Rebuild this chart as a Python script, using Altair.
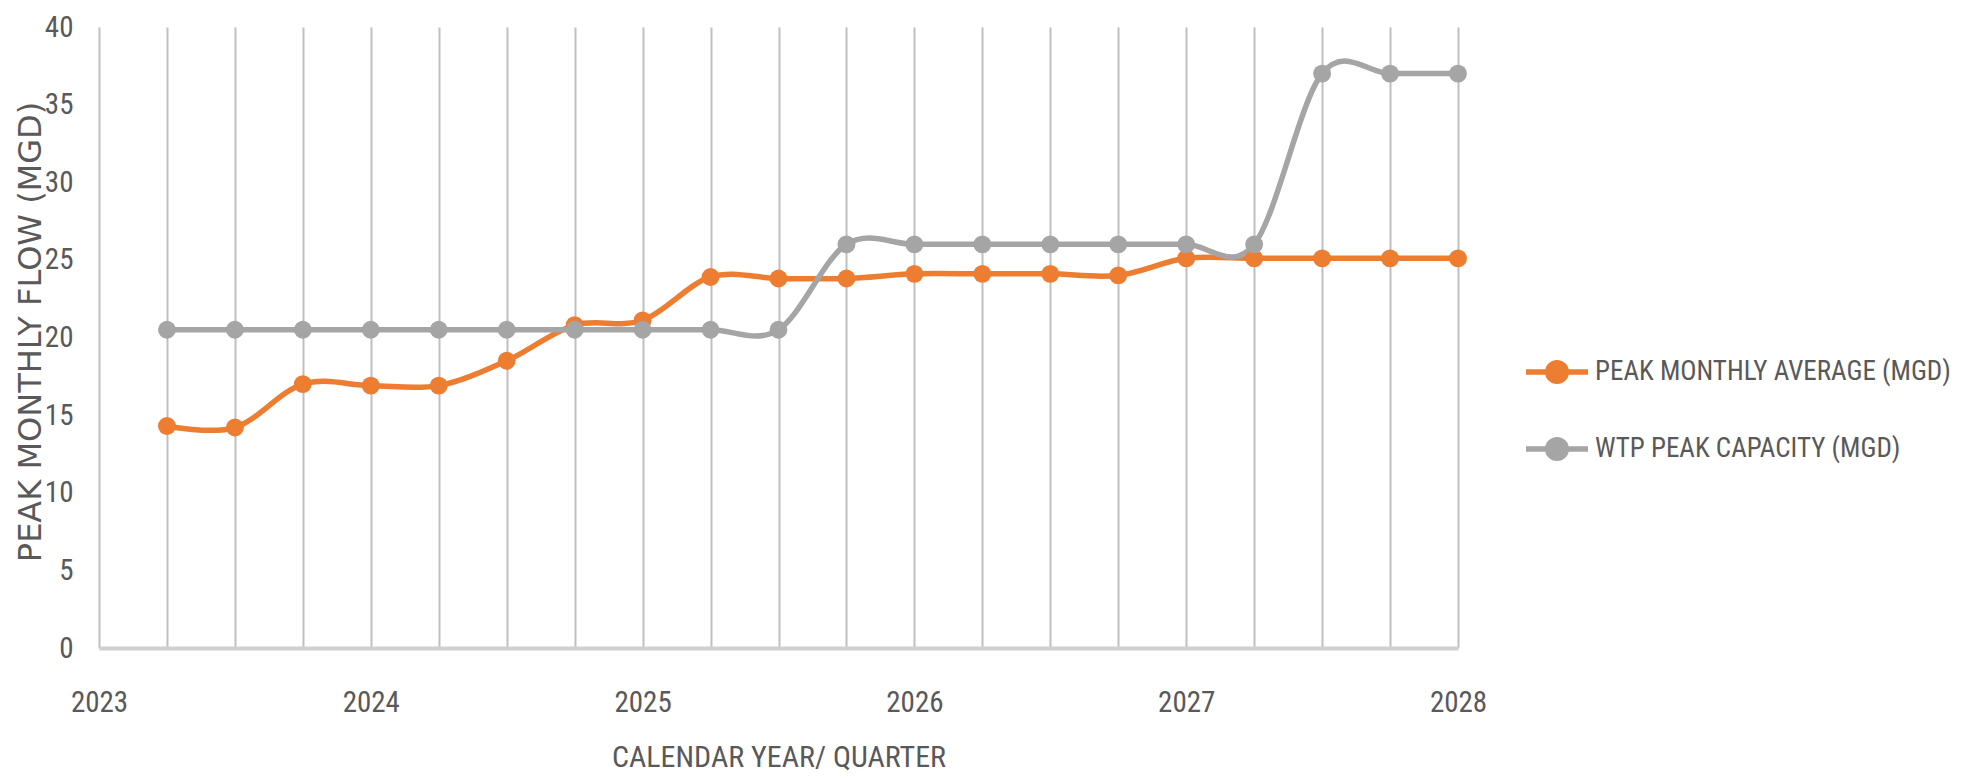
import altair as alt
import pandas as pd

quarters = [2023.25, 2023.5, 2023.75, 2024.0, 2024.25, 2024.5, 2024.75, 2025.0,
            2025.25, 2025.5, 2025.75, 2026.0, 2026.25, 2026.5, 2026.75, 2027.0,
            2027.25, 2027.5, 2027.75, 2028.0]
peak_monthly_avg = [14.3, 14.2, 17.0, 16.9, 16.9, 18.5, 20.8, 21.1,
                    23.9, 23.8, 23.8, 24.1, 24.1, 24.1, 24.0, 25.1,
                    25.1, 25.1, 25.1, 25.1]
wtp_peak_capacity = [20.5, 20.5, 20.5, 20.5, 20.5, 20.5, 20.5, 20.5,
                     20.5, 20.5, 26.0, 26.0, 26.0, 26.0, 26.0, 26.0,
                     26.0, 37.0, 37.0, 37.0]
series_names = ["PEAK MONTHLY AVERAGE (MGD)", "WTP PEAK CAPACITY (MGD)"]
series_colors = ["#ED7D31", "#A5A5A5"]
year_ticks = [2023, 2024, 2025, 2026, 2027, 2028]
y_ticks = [0, 5, 10, 15, 20, 25, 30, 35, 40]

rows = []
for q, a, c in zip(quarters, peak_monthly_avg, wtp_peak_capacity):
    rows.append({"quarter": q, "value": a, "series": series_names[0]})
    rows.append({"quarter": q, "value": c, "series": series_names[1]})
df = pd.DataFrame(rows)

TXT = "#595959"
NARROW = "Roboto Condensed, Liberation Sans Narrow, Arial Narrow, sans-serif"

PLOT_H = 621

x_enc = alt.X(
    "quarter:Q",
    scale=alt.Scale(domain=[2023, 2028], nice=False, zero=False),
    axis=alt.Axis(
        values=[2023] + quarters,
        labelExpr="datum.value % 1 == 0 ? format(datum.value, 'd') : ''",
        title="CALENDAR YEAR/ QUARTER",
        titleFont=NARROW, titleFontSize=30, titleFontWeight="normal", titleColor=TXT,
        titlePadding=25,
        labelFont=NARROW, labelFontSize=29, labelColor=TXT, labelPadding=40,
        labelOverlap=False, labelFlush=False,
        ticks=False,
        grid=True, gridColor="#BFBFBF", gridWidth=2,
        domain=True, domainColor="#D0D0D0", domainWidth=4,
    ),
)
y_enc = alt.Y(
    "value:Q",
    scale=alt.Scale(domain=[0, 40], nice=False),
    axis=alt.Axis(
        values=y_ticks,
        title="PEAK MONTHLY FLOW (MGD)",
        titleFont="DejaVu Sans", titleFontSize=32, titleFontWeight="normal", titleColor=TXT,
        titleX=-69, titleY=PLOT_H / 2 - 6, titleAngle=270,
        titleAlign="center", titleBaseline="middle",
        labelFont=NARROW, labelFontSize=29, labelColor=TXT, labelPadding=26,
        ticks=False, grid=False, domain=False,
    ),
)

legend_symbol = "M-1,0H1M0.3,0A0.3,0.3 0 1,1 -0.3,0A0.3,0.3 0 1,1 0.3,0Z"
legend_kw = dict(
    title=None, orient="none", legendX=1424, legendY=311,
    symbolType=legend_symbol, symbolSize=3844, symbolStrokeWidth=5.5,
    labelFont=NARROW, labelFontSize=27, labelColor=TXT, labelLimit=0,
    labelOffset=4, rowPadding=22,
)
color_scale = alt.Scale(domain=series_names, range=series_colors)

base = alt.Chart(df)
lines = base.mark_line(interpolate="cardinal", strokeWidth=5.5).encode(
    x=x_enc, y=y_enc,
    stroke=alt.Stroke("series:N", scale=color_scale, legend=alt.Legend(**legend_kw)),
    detail="series:N",
)
points = base.mark_circle(size=320, opacity=1).encode(
    x=x_enc, y=y_enc,
    fill=alt.Fill("series:N", scale=color_scale, legend=alt.Legend(**legend_kw)),
)

chart = alt.layer(lines, points).properties(
    width=1359, height=PLOT_H,
    autosize=alt.AutoSizeParams(type="none"),
    padding={"left": 91, "top": 19, "right": 506, "bottom": 126},
).configure_view(stroke=None)

chart.save("out.html", embed_options={"renderer": "svg", "actions": False})
